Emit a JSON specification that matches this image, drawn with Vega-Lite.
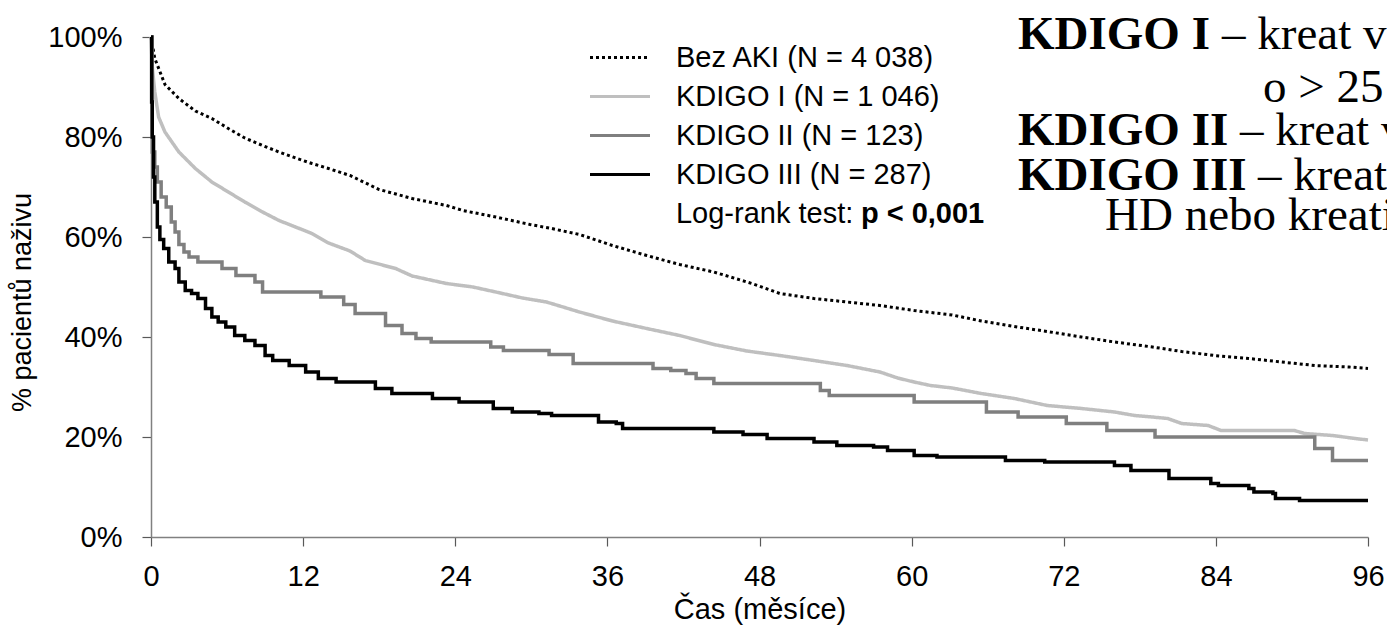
{
  "$schema": "https://vega.github.io/schema/vega-lite/v6.json",
  "width": 1217,
  "height": 500,
  "autosize": {"type": "none"},
  "padding": {"left": 151, "top": 37, "right": 19, "bottom": 90},
  "background": "#ffffff",
  "config": {
    "view": {"stroke": null},
    "font": "Liberation Sans",
    "axis": {
      "grid": false,
      "domainColor": "#808080",
      "domainWidth": 1.5,
      "tickColor": "#595959",
      "tickWidth": 1.2,
      "tickSize": 9,
      "labelFont": "Liberation Sans",
      "labelFontSize": 29,
      "labelColor": "#000000",
      "labelFlush": false,
      "labelOverlap": false,
      "titleFont": "Liberation Sans",
      "titleFontSize": 29,
      "titleFontWeight": "normal",
      "titleColor": "#000000"
    },
    "legend": {
      "symbolType": "stroke",
      "symbolSize": 3600,
      "symbolStrokeWidth": 3,
      "clipHeight": 39,
      "rowPadding": 0,
      "padding": 0,
      "labelFont": "Liberation Sans",
      "labelFontSize": 29,
      "labelColor": "#000000",
      "labelOffset": 24.5,
      "labelLimit": 600
    }
  },
  "datasets": {
    "km": [
      {"skupina": "Bez AKI (N = 4 038)", "m": 0, "p": 100},
      {"skupina": "Bez AKI (N = 4 038)", "m": 0.3, "p": 95.7},
      {"skupina": "Bez AKI (N = 4 038)", "m": 1.1, "p": 90.5},
      {"skupina": "Bez AKI (N = 4 038)", "m": 2.2, "p": 87.7},
      {"skupina": "Bez AKI (N = 4 038)", "m": 3.5, "p": 85.2},
      {"skupina": "Bez AKI (N = 4 038)", "m": 4.8, "p": 83.7},
      {"skupina": "Bez AKI (N = 4 038)", "m": 6.1, "p": 81.7},
      {"skupina": "Bez AKI (N = 4 038)", "m": 7.4, "p": 79.8},
      {"skupina": "Bez AKI (N = 4 038)", "m": 8.8, "p": 78.3},
      {"skupina": "Bez AKI (N = 4 038)", "m": 10.1, "p": 77},
      {"skupina": "Bez AKI (N = 4 038)", "m": 11.4, "p": 75.8},
      {"skupina": "Bez AKI (N = 4 038)", "m": 12.7, "p": 74.7},
      {"skupina": "Bez AKI (N = 4 038)", "m": 14, "p": 73.7},
      {"skupina": "Bez AKI (N = 4 038)", "m": 15.7, "p": 72.3},
      {"skupina": "Bez AKI (N = 4 038)", "m": 18, "p": 69.5},
      {"skupina": "Bez AKI (N = 4 038)", "m": 20.6, "p": 67.7},
      {"skupina": "Bez AKI (N = 4 038)", "m": 23.3, "p": 66.3},
      {"skupina": "Bez AKI (N = 4 038)", "m": 24.6, "p": 65.3},
      {"skupina": "Bez AKI (N = 4 038)", "m": 27.2, "p": 64},
      {"skupina": "Bez AKI (N = 4 038)", "m": 29.9, "p": 62.5},
      {"skupina": "Bez AKI (N = 4 038)", "m": 31.6, "p": 61.7},
      {"skupina": "Bez AKI (N = 4 038)", "m": 33.8, "p": 60.5},
      {"skupina": "Bez AKI (N = 4 038)", "m": 36.4, "p": 58.3},
      {"skupina": "Bez AKI (N = 4 038)", "m": 39.1, "p": 56.3},
      {"skupina": "Bez AKI (N = 4 038)", "m": 41.7, "p": 54.5},
      {"skupina": "Bez AKI (N = 4 038)", "m": 44.4, "p": 53},
      {"skupina": "Bez AKI (N = 4 038)", "m": 47.4, "p": 50.7},
      {"skupina": "Bez AKI (N = 4 038)", "m": 49.6, "p": 48.7},
      {"skupina": "Bez AKI (N = 4 038)", "m": 52.3, "p": 47.7},
      {"skupina": "Bez AKI (N = 4 038)", "m": 54.9, "p": 47},
      {"skupina": "Bez AKI (N = 4 038)", "m": 57.5, "p": 46.3},
      {"skupina": "Bez AKI (N = 4 038)", "m": 60.2, "p": 45.3},
      {"skupina": "Bez AKI (N = 4 038)", "m": 63.2, "p": 44.4},
      {"skupina": "Bez AKI (N = 4 038)", "m": 65.5, "p": 43.2},
      {"skupina": "Bez AKI (N = 4 038)", "m": 68.1, "p": 42.1},
      {"skupina": "Bez AKI (N = 4 038)", "m": 70.7, "p": 41.1},
      {"skupina": "Bez AKI (N = 4 038)", "m": 73.4, "p": 40},
      {"skupina": "Bez AKI (N = 4 038)", "m": 76, "p": 39},
      {"skupina": "Bez AKI (N = 4 038)", "m": 79, "p": 38},
      {"skupina": "Bez AKI (N = 4 038)", "m": 81.3, "p": 37.1},
      {"skupina": "Bez AKI (N = 4 038)", "m": 83.9, "p": 36.3},
      {"skupina": "Bez AKI (N = 4 038)", "m": 86.6, "p": 35.7},
      {"skupina": "Bez AKI (N = 4 038)", "m": 89.2, "p": 35},
      {"skupina": "Bez AKI (N = 4 038)", "m": 91.8, "p": 34.3},
      {"skupina": "Bez AKI (N = 4 038)", "m": 94.5, "p": 34},
      {"skupina": "Bez AKI (N = 4 038)", "m": 96, "p": 33.7},

      {"skupina": "KDIGO I (N = 1 046)", "m": 0, "p": 100},
      {"skupina": "KDIGO I (N = 1 046)", "m": 0.1, "p": 94},
      {"skupina": "KDIGO I (N = 1 046)", "m": 0.3, "p": 89},
      {"skupina": "KDIGO I (N = 1 046)", "m": 0.6, "p": 84},
      {"skupina": "KDIGO I (N = 1 046)", "m": 1.1, "p": 81},
      {"skupina": "KDIGO I (N = 1 046)", "m": 2.2, "p": 77},
      {"skupina": "KDIGO I (N = 1 046)", "m": 3.5, "p": 73.7},
      {"skupina": "KDIGO I (N = 1 046)", "m": 4.8, "p": 71},
      {"skupina": "KDIGO I (N = 1 046)", "m": 6.1, "p": 69},
      {"skupina": "KDIGO I (N = 1 046)", "m": 7.4, "p": 67},
      {"skupina": "KDIGO I (N = 1 046)", "m": 8.8, "p": 65},
      {"skupina": "KDIGO I (N = 1 046)", "m": 10.1, "p": 63.3},
      {"skupina": "KDIGO I (N = 1 046)", "m": 11.4, "p": 62},
      {"skupina": "KDIGO I (N = 1 046)", "m": 12.7, "p": 60.7},
      {"skupina": "KDIGO I (N = 1 046)", "m": 14, "p": 58.8},
      {"skupina": "KDIGO I (N = 1 046)", "m": 15.7, "p": 57.2},
      {"skupina": "KDIGO I (N = 1 046)", "m": 16.9, "p": 55.3},
      {"skupina": "KDIGO I (N = 1 046)", "m": 19.3, "p": 53.7},
      {"skupina": "KDIGO I (N = 1 046)", "m": 20.6, "p": 52.2},
      {"skupina": "KDIGO I (N = 1 046)", "m": 23.3, "p": 50.7},
      {"skupina": "KDIGO I (N = 1 046)", "m": 25.4, "p": 50},
      {"skupina": "KDIGO I (N = 1 046)", "m": 27.2, "p": 49},
      {"skupina": "KDIGO I (N = 1 046)", "m": 29.3, "p": 47.8},
      {"skupina": "KDIGO I (N = 1 046)", "m": 31.2, "p": 47},
      {"skupina": "KDIGO I (N = 1 046)", "m": 33.8, "p": 45},
      {"skupina": "KDIGO I (N = 1 046)", "m": 36.4, "p": 43.2},
      {"skupina": "KDIGO I (N = 1 046)", "m": 39.1, "p": 41.7},
      {"skupina": "KDIGO I (N = 1 046)", "m": 41.7, "p": 40.3},
      {"skupina": "KDIGO I (N = 1 046)", "m": 44.4, "p": 38.5},
      {"skupina": "KDIGO I (N = 1 046)", "m": 47, "p": 37.2},
      {"skupina": "KDIGO I (N = 1 046)", "m": 49.6, "p": 36.3},
      {"skupina": "KDIGO I (N = 1 046)", "m": 52.3, "p": 35.3},
      {"skupina": "KDIGO I (N = 1 046)", "m": 54.9, "p": 34.3},
      {"skupina": "KDIGO I (N = 1 046)", "m": 57.5, "p": 33},
      {"skupina": "KDIGO I (N = 1 046)", "m": 58.9, "p": 31.8},
      {"skupina": "KDIGO I (N = 1 046)", "m": 60.2, "p": 31},
      {"skupina": "KDIGO I (N = 1 046)", "m": 61.5, "p": 30.3},
      {"skupina": "KDIGO I (N = 1 046)", "m": 63.2, "p": 29.8},
      {"skupina": "KDIGO I (N = 1 046)", "m": 65.5, "p": 28.7},
      {"skupina": "KDIGO I (N = 1 046)", "m": 68.1, "p": 27.7},
      {"skupina": "KDIGO I (N = 1 046)", "m": 69.4, "p": 27},
      {"skupina": "KDIGO I (N = 1 046)", "m": 70.7, "p": 26.3},
      {"skupina": "KDIGO I (N = 1 046)", "m": 73.4, "p": 25.7},
      {"skupina": "KDIGO I (N = 1 046)", "m": 76, "p": 25},
      {"skupina": "KDIGO I (N = 1 046)", "m": 77.6, "p": 24.3},
      {"skupina": "KDIGO I (N = 1 046)", "m": 79, "p": 24},
      {"skupina": "KDIGO I (N = 1 046)", "m": 80.2, "p": 23.7},
      {"skupina": "KDIGO I (N = 1 046)", "m": 81.3, "p": 22.7},
      {"skupina": "KDIGO I (N = 1 046)", "m": 83.4, "p": 22.3},
      {"skupina": "KDIGO I (N = 1 046)", "m": 84.4, "p": 21.3},
      {"skupina": "KDIGO I (N = 1 046)", "m": 90.2, "p": 21.3},
      {"skupina": "KDIGO I (N = 1 046)", "m": 91, "p": 20.7},
      {"skupina": "KDIGO I (N = 1 046)", "m": 93.2, "p": 20.3},
      {"skupina": "KDIGO I (N = 1 046)", "m": 95, "p": 19.7},
      {"skupina": "KDIGO I (N = 1 046)", "m": 96, "p": 19.4},

      {"skupina": "KDIGO II (N = 123)", "m": 0, "p": 100},
      {"skupina": "KDIGO II (N = 123)", "m": 0.1, "p": 77},
      {"skupina": "KDIGO II (N = 123)", "m": 0.3, "p": 74},
      {"skupina": "KDIGO II (N = 123)", "m": 0.5, "p": 71},
      {"skupina": "KDIGO II (N = 123)", "m": 0.8, "p": 68},
      {"skupina": "KDIGO II (N = 123)", "m": 1.2, "p": 66},
      {"skupina": "KDIGO II (N = 123)", "m": 1.6, "p": 63},
      {"skupina": "KDIGO II (N = 123)", "m": 1.9, "p": 61},
      {"skupina": "KDIGO II (N = 123)", "m": 2.2, "p": 58.5},
      {"skupina": "KDIGO II (N = 123)", "m": 2.6, "p": 57},
      {"skupina": "KDIGO II (N = 123)", "m": 3, "p": 56},
      {"skupina": "KDIGO II (N = 123)", "m": 3.7, "p": 55},
      {"skupina": "KDIGO II (N = 123)", "m": 5.6, "p": 53.7},
      {"skupina": "KDIGO II (N = 123)", "m": 6.7, "p": 52.3},
      {"skupina": "KDIGO II (N = 123)", "m": 8.2, "p": 51},
      {"skupina": "KDIGO II (N = 123)", "m": 8.8, "p": 49},
      {"skupina": "KDIGO II (N = 123)", "m": 13.4, "p": 48},
      {"skupina": "KDIGO II (N = 123)", "m": 15.2, "p": 46.5},
      {"skupina": "KDIGO II (N = 123)", "m": 16.1, "p": 44.7},
      {"skupina": "KDIGO II (N = 123)", "m": 18.5, "p": 42.3},
      {"skupina": "KDIGO II (N = 123)", "m": 19.8, "p": 40.7},
      {"skupina": "KDIGO II (N = 123)", "m": 20.9, "p": 39.7},
      {"skupina": "KDIGO II (N = 123)", "m": 22.1, "p": 39},
      {"skupina": "KDIGO II (N = 123)", "m": 26.8, "p": 38},
      {"skupina": "KDIGO II (N = 123)", "m": 27.8, "p": 37.3},
      {"skupina": "KDIGO II (N = 123)", "m": 31.4, "p": 36.5},
      {"skupina": "KDIGO II (N = 123)", "m": 33.3, "p": 34.7},
      {"skupina": "KDIGO II (N = 123)", "m": 39.6, "p": 33.7},
      {"skupina": "KDIGO II (N = 123)", "m": 41, "p": 33.3},
      {"skupina": "KDIGO II (N = 123)", "m": 42.2, "p": 32.7},
      {"skupina": "KDIGO II (N = 123)", "m": 43, "p": 31.7},
      {"skupina": "KDIGO II (N = 123)", "m": 44.4, "p": 30.7},
      {"skupina": "KDIGO II (N = 123)", "m": 52.8, "p": 29.3},
      {"skupina": "KDIGO II (N = 123)", "m": 53.5, "p": 28.3},
      {"skupina": "KDIGO II (N = 123)", "m": 60.2, "p": 27},
      {"skupina": "KDIGO II (N = 123)", "m": 65.9, "p": 25},
      {"skupina": "KDIGO II (N = 123)", "m": 68.4, "p": 24},
      {"skupina": "KDIGO II (N = 123)", "m": 72.2, "p": 22.7},
      {"skupina": "KDIGO II (N = 123)", "m": 75.4, "p": 21.3},
      {"skupina": "KDIGO II (N = 123)", "m": 79.2, "p": 20},
      {"skupina": "KDIGO II (N = 123)", "m": 91.8, "p": 17.7},
      {"skupina": "KDIGO II (N = 123)", "m": 93.2, "p": 15.3},
      {"skupina": "KDIGO II (N = 123)", "m": 96, "p": 15.3},

      {"skupina": "KDIGO III (N = 287)", "m": 0, "p": 100},
      {"skupina": "KDIGO III (N = 287)", "m": 0.05, "p": 87},
      {"skupina": "KDIGO III (N = 287)", "m": 0.1, "p": 80},
      {"skupina": "KDIGO III (N = 287)", "m": 0.2, "p": 72},
      {"skupina": "KDIGO III (N = 287)", "m": 0.3, "p": 67},
      {"skupina": "KDIGO III (N = 287)", "m": 0.5, "p": 62},
      {"skupina": "KDIGO III (N = 287)", "m": 0.7, "p": 59.5},
      {"skupina": "KDIGO III (N = 287)", "m": 1, "p": 57.7},
      {"skupina": "KDIGO III (N = 287)", "m": 1.4, "p": 55},
      {"skupina": "KDIGO III (N = 287)", "m": 1.9, "p": 53.7},
      {"skupina": "KDIGO III (N = 287)", "m": 2.2, "p": 51},
      {"skupina": "KDIGO III (N = 287)", "m": 2.7, "p": 49.3},
      {"skupina": "KDIGO III (N = 287)", "m": 3.2, "p": 48.7},
      {"skupina": "KDIGO III (N = 287)", "m": 3.7, "p": 47.7},
      {"skupina": "KDIGO III (N = 287)", "m": 4.3, "p": 45.7},
      {"skupina": "KDIGO III (N = 287)", "m": 4.8, "p": 44},
      {"skupina": "KDIGO III (N = 287)", "m": 5.3, "p": 43},
      {"skupina": "KDIGO III (N = 287)", "m": 5.9, "p": 42},
      {"skupina": "KDIGO III (N = 287)", "m": 6.6, "p": 40.3},
      {"skupina": "KDIGO III (N = 287)", "m": 7.4, "p": 39.3},
      {"skupina": "KDIGO III (N = 287)", "m": 8.2, "p": 38.3},
      {"skupina": "KDIGO III (N = 287)", "m": 9, "p": 36.3},
      {"skupina": "KDIGO III (N = 287)", "m": 9.6, "p": 35.3},
      {"skupina": "KDIGO III (N = 287)", "m": 10.9, "p": 34.3},
      {"skupina": "KDIGO III (N = 287)", "m": 12.2, "p": 33},
      {"skupina": "KDIGO III (N = 287)", "m": 13.2, "p": 31.7},
      {"skupina": "KDIGO III (N = 287)", "m": 14.6, "p": 31},
      {"skupina": "KDIGO III (N = 287)", "m": 17.7, "p": 29.7},
      {"skupina": "KDIGO III (N = 287)", "m": 19, "p": 28.7},
      {"skupina": "KDIGO III (N = 287)", "m": 22.2, "p": 27.7},
      {"skupina": "KDIGO III (N = 287)", "m": 24.3, "p": 27},
      {"skupina": "KDIGO III (N = 287)", "m": 27, "p": 25.7},
      {"skupina": "KDIGO III (N = 287)", "m": 28.5, "p": 25},
      {"skupina": "KDIGO III (N = 287)", "m": 30.6, "p": 24.7},
      {"skupina": "KDIGO III (N = 287)", "m": 31.6, "p": 24.3},
      {"skupina": "KDIGO III (N = 287)", "m": 35.3, "p": 23},
      {"skupina": "KDIGO III (N = 287)", "m": 36.7, "p": 22.7},
      {"skupina": "KDIGO III (N = 287)", "m": 37.2, "p": 21.7},
      {"skupina": "KDIGO III (N = 287)", "m": 44.4, "p": 21},
      {"skupina": "KDIGO III (N = 287)", "m": 46.7, "p": 20.5},
      {"skupina": "KDIGO III (N = 287)", "m": 48.6, "p": 19.7},
      {"skupina": "KDIGO III (N = 287)", "m": 52.3, "p": 19},
      {"skupina": "KDIGO III (N = 287)", "m": 54.1, "p": 18.3},
      {"skupina": "KDIGO III (N = 287)", "m": 57, "p": 18},
      {"skupina": "KDIGO III (N = 287)", "m": 58.1, "p": 17.3},
      {"skupina": "KDIGO III (N = 287)", "m": 60.2, "p": 16.3},
      {"skupina": "KDIGO III (N = 287)", "m": 62, "p": 16},
      {"skupina": "KDIGO III (N = 287)", "m": 67.4, "p": 15.3},
      {"skupina": "KDIGO III (N = 287)", "m": 70.5, "p": 15},
      {"skupina": "KDIGO III (N = 287)", "m": 76, "p": 14.3},
      {"skupina": "KDIGO III (N = 287)", "m": 77.3, "p": 13.3},
      {"skupina": "KDIGO III (N = 287)", "m": 80.3, "p": 11.7},
      {"skupina": "KDIGO III (N = 287)", "m": 83.6, "p": 10.7},
      {"skupina": "KDIGO III (N = 287)", "m": 84.2, "p": 10.3},
      {"skupina": "KDIGO III (N = 287)", "m": 86.6, "p": 9.7},
      {"skupina": "KDIGO III (N = 287)", "m": 87, "p": 9},
      {"skupina": "KDIGO III (N = 287)", "m": 88.5, "p": 8.7},
      {"skupina": "KDIGO III (N = 287)", "m": 88.7, "p": 7.7},
      {"skupina": "KDIGO III (N = 287)", "m": 90.6, "p": 7.3},
      {"skupina": "KDIGO III (N = 287)", "m": 96, "p": 7.3}
    ]
  },
  "layer": [
    {
      "data": {"name": "km"},
      "encoding": {
        "x": {
          "field": "m", "type": "quantitative",
          "scale": {"domain": [0, 96], "nice": false},
          "axis": {"values": [0, 12, 24, 36, 48, 60, 72, 84, 96], "title": "Čas (měsíce)", "labelPadding": 16, "titlePadding": 4}
        },
        "y": {
          "field": "p", "type": "quantitative",
          "scale": {"domain": [0, 100], "nice": false},
          "axis": {"values": [0, 20, 40, 60, 80, 100], "labelExpr": "datum.value + '%'", "title": "% pacientů naživu", "labelPadding": 20, "titlePadding": 11, "titleFontSize": 27, "titleY": 265}
        },
        "color": {
          "field": "skupina", "type": "nominal",
          "scale": {"domain": ["Bez AKI (N = 4 038)", "KDIGO I (N = 1 046)", "KDIGO II (N = 123)", "KDIGO III (N = 287)"], "range": ["#000000", "#bfbfbf", "#7f7f7f", "#000000"]},
          "legend": {"title": null, "orient": "none", "legendX": 437.5, "legendY": 1}
        },
        "strokeDash": {
          "field": "skupina", "type": "nominal",
          "scale": {"domain": ["Bez AKI (N = 4 038)", "KDIGO I (N = 1 046)", "KDIGO II (N = 123)", "KDIGO III (N = 287)"], "range": [[3, 3], [1, 0], [1, 0], [1, 0]]},
          "legend": {"title": null, "orient": "none", "legendX": 437.5, "legendY": 1}
        }
      },
      "layer": [
        {"transform": [{"filter": "datum.skupina === 'Bez AKI (N = 4 038)'"}], "mark": {"type": "line", "interpolate": "linear", "strokeWidth": 3}},
        {"transform": [{"filter": "datum.skupina === 'KDIGO I (N = 1 046)'"}], "mark": {"type": "line", "interpolate": "linear", "strokeWidth": 3.5}},
        {"transform": [{"filter": "datum.skupina === 'KDIGO II (N = 123)' || datum.skupina === 'KDIGO III (N = 287)'"}], "mark": {"type": "line", "interpolate": "step-after", "strokeWidth": 3.5}}
      ]
    },
    {
      "data": {"values": [{}]},
      "mark": {"type": "text", "font": "Liberation Sans", "fontSize": 29, "align": "left", "baseline": "middle", "color": "#000000"},
      "encoding": {"x": {"datum": 41.41, "type": "quantitative"}, "y": {"datum": 64.7, "type": "quantitative"}, "text": {"value": "Log-rank test:"}}
    },
    {
      "data": {"values": [{}]},
      "mark": {"type": "text", "font": "Liberation Sans", "fontSize": 29, "fontWeight": "bold", "align": "left", "baseline": "middle", "color": "#000000"},
      "encoding": {"x": {"datum": 56.0, "type": "quantitative"}, "y": {"datum": 64.7, "type": "quantitative"}, "text": {"value": "p < 0,001"}}
    },
    {
      "data": {"values": [{}]},
      "mark": {"type": "text", "font": "Liberation Serif", "fontSize": 47, "fontWeight": "bold", "align": "left", "baseline": "alphabetic", "color": "#000000"},
      "encoding": {"x": {"datum": 68.39, "type": "quantitative"}, "y": {"datum": 97.6, "type": "quantitative"}, "text": {"value": "KDIGO I"}}
    },
    {
      "data": {"values": [{}]},
      "mark": {"type": "text", "font": "Liberation Serif", "fontSize": 47, "align": "left", "baseline": "alphabetic", "color": "#000000"},
      "encoding": {"x": {"datum": 84.49, "type": "quantitative"}, "y": {"datum": 97.6, "type": "quantitative"}, "text": {"value": "– kreat vzestup 1,5–1,9× nebo"}}
    },
    {
      "data": {"values": [{}]},
      "mark": {"type": "text", "font": "Liberation Serif", "fontSize": 47, "align": "left", "baseline": "alphabetic", "color": "#000000"},
      "encoding": {"x": {"datum": 87.72, "type": "quantitative"}, "y": {"datum": 87.0, "type": "quantitative"}, "text": {"value": "o > 25 µmol/l"}}
    },
    {
      "data": {"values": [{}]},
      "mark": {"type": "text", "font": "Liberation Serif", "fontSize": 47, "fontWeight": "bold", "align": "left", "baseline": "alphabetic", "color": "#000000"},
      "encoding": {"x": {"datum": 68.39, "type": "quantitative"}, "y": {"datum": 78.4, "type": "quantitative"}, "text": {"value": "KDIGO II"}}
    },
    {
      "data": {"values": [{}]},
      "mark": {"type": "text", "font": "Liberation Serif", "fontSize": 47, "align": "left", "baseline": "alphabetic", "color": "#000000"},
      "encoding": {"x": {"datum": 85.9, "type": "quantitative"}, "y": {"datum": 78.4, "type": "quantitative"}, "text": {"value": "– kreat vzestup 2,0–2,9×"}}
    },
    {
      "data": {"values": [{}]},
      "mark": {"type": "text", "font": "Liberation Serif", "fontSize": 47, "fontWeight": "bold", "align": "left", "baseline": "alphabetic", "color": "#000000"},
      "encoding": {"x": {"datum": 68.39, "type": "quantitative"}, "y": {"datum": 69.4, "type": "quantitative"}, "text": {"value": "KDIGO III"}}
    },
    {
      "data": {"values": [{}]},
      "mark": {"type": "text", "font": "Liberation Serif", "fontSize": 47, "align": "left", "baseline": "alphabetic", "color": "#000000"},
      "encoding": {"x": {"datum": 87.32, "type": "quantitative"}, "y": {"datum": 69.4, "type": "quantitative"}, "text": {"value": "– kreat vzestup ≥ 3× nebo"}}
    },
    {
      "data": {"values": [{}]},
      "mark": {"type": "text", "font": "Liberation Serif", "fontSize": 47, "align": "left", "baseline": "alphabetic", "color": "#000000"},
      "encoding": {"x": {"datum": 75.26, "type": "quantitative"}, "y": {"datum": 61.4, "type": "quantitative"}, "text": {"value": "HD nebo kreatinin > 354 µmol/l"}}
    }
  ]
}
